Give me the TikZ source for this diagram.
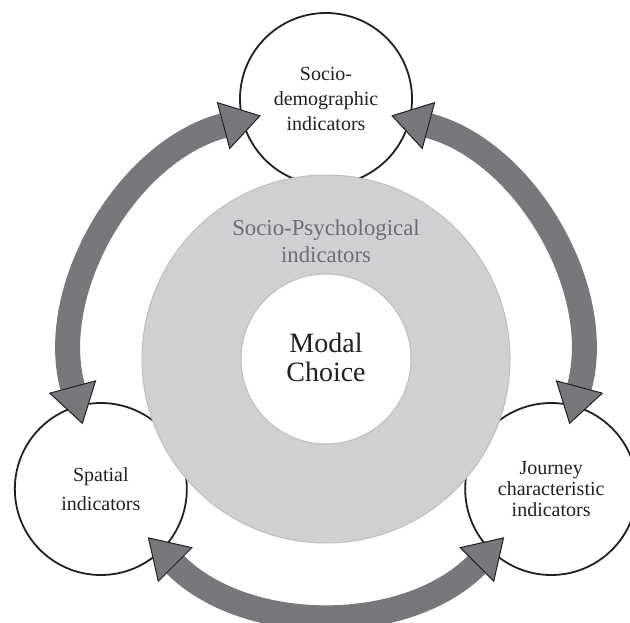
\documentclass[tikz,border=0pt]{standalone}
\usepackage{fontspec}
\setmainfont{Liberation Serif}
\usetikzlibrary{arrows.meta}
\definecolor{contour}{HTML}{231F20}
\definecolor{grisfleche}{HTML}{77787B}
\definecolor{grisanneau}{HTML}{CFD0D2}
\definecolor{bordanneau}{HTML}{BDBEC0}
\definecolor{textegris}{HTML}{6D6E71}

\begin{document}
\begin{tikzpicture}[x=0.5pt,y=0.5pt]
% Styles
\tikzstyle{cercle}=[circle,draw=contour,line width=0.9pt,minimum size=86pt,inner sep=0pt,align=center,text=contour,font=\fontsize{10}{12.5}\selectfont]
\tikzstyle{anneau}=[fill=grisanneau,draw=bordanneau,line width=0.5pt,even odd rule]
\tikzstyle{grossefleche}=[grisfleche,line width=12.5pt,{Triangle[length=19.5pt,width=24.5pt,line width=0.5pt,color=contour,fill=grisfleche]}-{Triangle[length=19.5pt,width=24.5pt,line width=0.5pt,color=contour,fill=grisfleche]}]
\tikzstyle{titregris}=[align=center,text=textegris,font=\fontsize{11.4}{13.5}\selectfont]
\tikzstyle{titrecentre}=[align=center,text=contour,font=\fontsize{14}{14.5}\selectfont]
% Dimensions
\def\RayonCercles{260}
\def\RayonFleches{252}
\def\RayonAnneau{184}
\def\RayonCentre{85}
% Cadre
\clip (0,0) rectangle (630,622);
\begin{scope}[shift={(326,263)}]
% Cercles
\node[cercle] (Socio) at (90:\RayonCercles) {Socio-\\demographic\\indicators};
\node[cercle,font=\fontsize{10}{14.5}\selectfont] (Spatial) at (210:\RayonCercles) {Spatial\\indicators};
\node[cercle,font=\fontsize{10}{10.3}\selectfont] (Trajet) at (330:\RayonCercles) {Journey\\characteristic\\indicators};
% Anneau
\fill[anneau] (0,0) circle[radius=\RayonAnneau] (0,0) circle[radius=\RayonCentre];
\node[titregris] (Psycho) at (0,118) {Socio-Psychological\\indicators};
\node[titrecentre] (Choix) at (0,2) {Modal\\Choice};
% Extremites des fleches
\coordinate (SocioG) at (105:\RayonFleches);
\coordinate (SocioD) at (75:\RayonFleches);
\coordinate (SpatialH) at (195:\RayonFleches);
\coordinate (SpatialB) at (225:\RayonFleches);
\coordinate (TrajetB) at (315:\RayonFleches);
\coordinate (TrajetH) at (345:\RayonFleches);
% Fleches
\draw[grossefleche] (SocioG) arc[start angle=105,end angle=195,radius=\RayonFleches];
\draw[grossefleche] (SpatialB) arc[start angle=225,end angle=315,radius=\RayonFleches];
\draw[grossefleche] (TrajetH) arc[start angle=345,end angle=435,radius=\RayonFleches];
\end{scope}
\end{tikzpicture}
\end{document}
